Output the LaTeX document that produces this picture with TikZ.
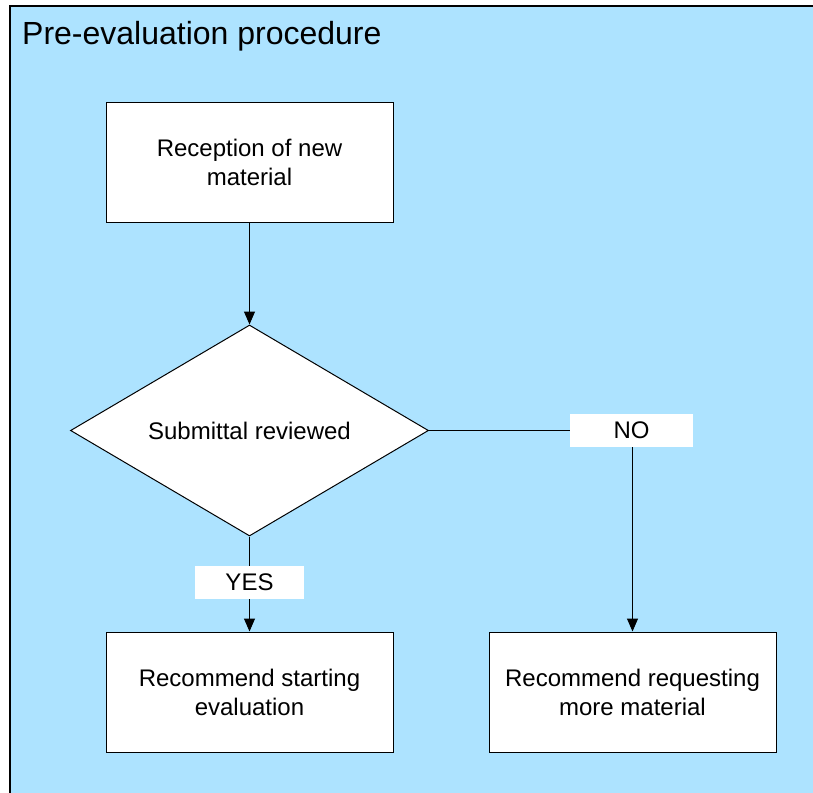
\documentclass[tikz,border=0pt]{standalone}
\usepackage{fontspec}
\setmainfont{Liberation Sans}
\usetikzlibrary{shapes.geometric,arrows.meta}
\definecolor{panelblue}{RGB}{173,227,255}
\tikzset{
  procbox/.style={draw=black, fill=white, line width=1pt, minimum width=287pt, minimum height=120pt,
    align=center, inner sep=0pt, font=\fontsize{24}{29}\selectfont},
  decision/.style={draw=black, fill=white, line width=1pt, diamond, aspect=1.697,
    minimum width=358pt, minimum height=211pt, inner sep=0pt, font=\fontsize{24}{29}\selectfont},
  tag/.style={fill=white, inner sep=0pt, font=\fontsize{24}{29}\selectfont},
  flow/.style={line width=1pt, -{Triangle[width=11pt,length=13pt]}},
  plain/.style={line width=1pt}
}
\begin{document}
\begin{tikzpicture}[x=1pt,y=-1pt]
  \useasboundingbox (0,0) rectangle (813,792);
  \clip (0,0) rectangle (813,792);
  % panel
  \draw[fill=panelblue, line width=1.6pt] (10,6) rectangle (840,820);
  \node[anchor=base west, inner sep=0pt, font=\fontsize{32}{38}\selectfont] (title) at (22,45) {Pre-evaluation procedure};
  % flow elements
  \node[procbox] (recv) at (249.5,162.5) {Reception of new\\material};
  \node[decision] (rev) at (249.5,430.5) {Submittal reviewed};
  \node[tag, minimum width=123pt, minimum height=33pt] (no) at (631.5,430.5) {NO};
  \node[tag, minimum width=109pt, minimum height=33pt] (yes) at (249.5,582.5) {YES};
  \node[procbox] (start) at (249.5,692) {Recommend starting\\evaluation};
  \node[procbox] (more) at (632.5,692) {Recommend requesting\\more material};
  % connectors
  \draw[flow] (recv.south) -- (rev.north);
  \draw[plain] (rev.east) -- (no.west);
  \draw[flow] (no.south -| more.north) -- (more.north);
  \draw[plain] (rev.south) -- (yes.north);
  \draw[flow] (yes.south) -- (yes.south |- start.north);
\end{tikzpicture}
\end{document}
